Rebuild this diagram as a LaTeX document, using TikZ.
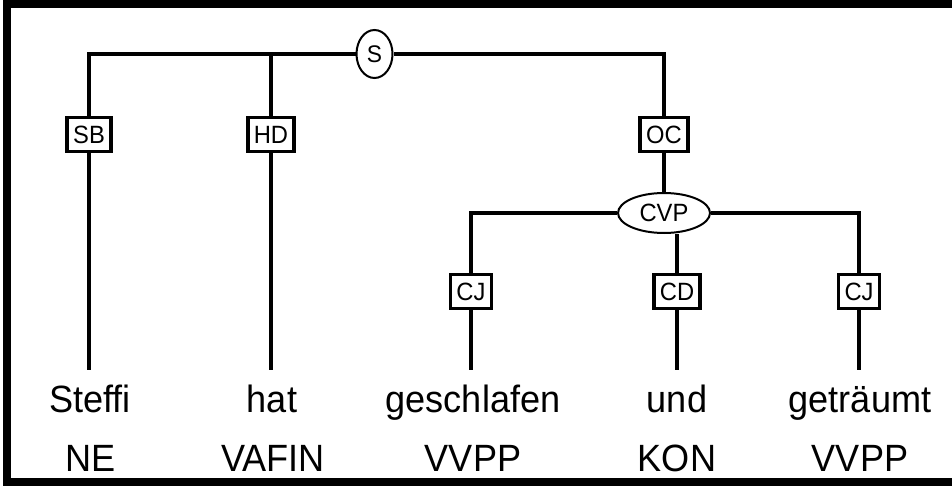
\documentclass[tikz,border=0pt]{standalone}
\usepackage{fontspec}
\setmainfont[FakeStretch=0.95]{Liberation Sans}
\usetikzlibrary{shapes.geometric}
\begin{document}
\begin{tikzpicture}[x=1pt,y=-1pt,
  edge/.style={line width=4pt},
  func/.style={draw, line width=3.4pt, fill=white, inner xsep=6pt, inner ysep=0pt,
    minimum height=34pt, font=\fontsize{25}{28}\selectfont},
  cat/.style={draw, ellipse, line width=2pt, fill=white, inner sep=0pt,
    font=\fontsize{24}{27}\selectfont},
  word/.style={inner sep=0pt, anchor=base, font=\fontsize{38}{42}\selectfont},
]
\useasboundingbox (0,0) rectangle (952,486);
% frame
\begin{scope}
  \clip (0,0) rectangle (952,486);
  \draw[line width=8pt] (960,4.5) -- (6.5,4.5) -- (6.5,481.5) -- (960,481.5);
\end{scope}

% phrase and function nodes
\node[cat, minimum width=36pt, minimum height=48pt] (S) at (374.5,54) {S};
\node[func] (SB) at (89,134.5) {SB};
\node[func] (HD) at (271,134.5) {HD};
\node[func] (OC) at (664,134.5) {OC};
\node[cat, minimum width=92pt, minimum height=40pt, font=\fontsize{25}{28}\selectfont] (CVP) at (664,213) {CVP};
\node[func] (CJa) at (471,291.5) {CJ};
\node[func] (CD) at (677,291.5) {CD};
\node[func] (CJb) at (859,291.5) {CJ};

% words and part-of-speech tags
\node[word] (w1) at (90,412) {Steffi};
\node[word] (w2) at (272,412) {hat};
\node[word] (w3) at (473,412) {geschlafen};
\node[word] (w4) at (677,412) {und};
\node[word] (w5) at (860,412) {geträumt};
\node[word] (t1) at (91,471) {NE};
\node[word] (t2) at (273,471) {VAFIN};
\node[word] (t3) at (473,471) {VVPP};
\node[word] (t4) at (677,471) {KON};
\node[word] (t5) at (860,471) {VVPP};

\coordinate (foot) at (0,370);

% tree edges
\draw[edge] (S.west) -| (SB.north);
\draw[edge] (HD.north) -- (HD.north |- S.west);
\draw[edge] (S.east) -| (OC.north);
\draw[edge] (OC.south) -- (CVP.north);
\draw[edge] (CVP.west) -| (CJa.north);
\draw[edge] (CVP.east) -| (CJb.north);
\draw[edge] (CD.north) -- (CD.north |- CVP.south);

% edges down to the words
\foreach \n in {SB,HD,CJa,CD,CJb}
  \draw[edge] (\n.south) -- (\n.south |- foot);
\end{tikzpicture}
\end{document}
